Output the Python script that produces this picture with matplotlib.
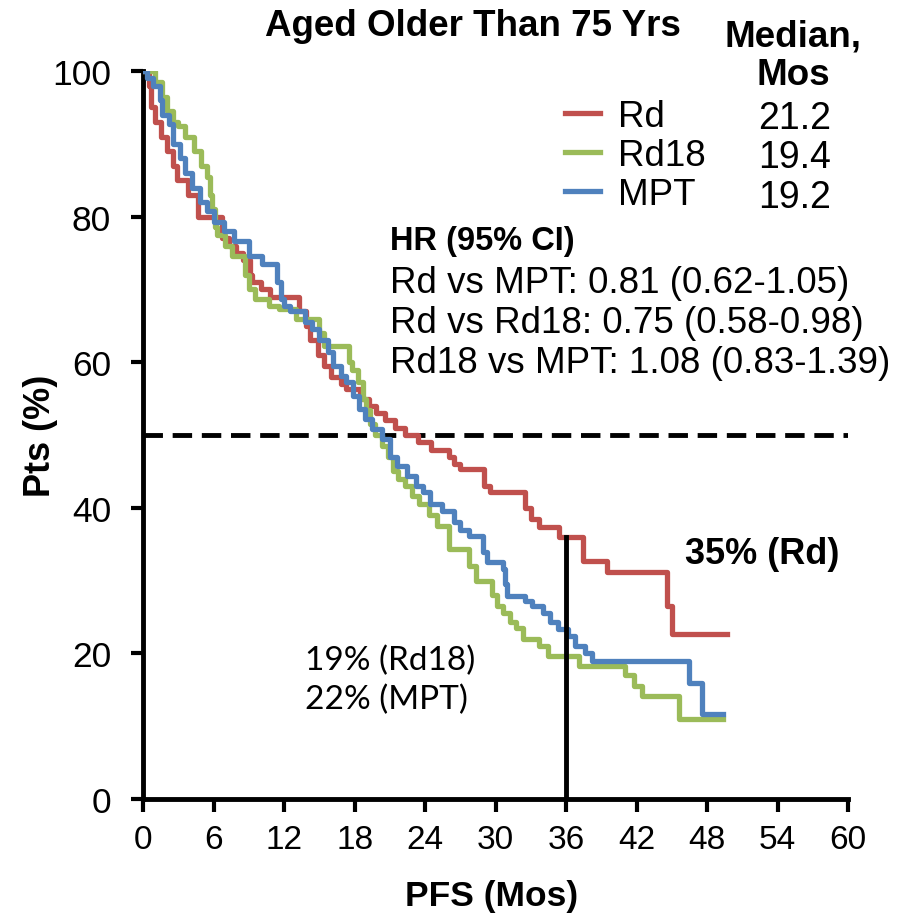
import matplotlib
matplotlib.use("Agg")
import matplotlib.pyplot as plt

plt.rcParams['font.family'] = ['Liberation Sans', 'DejaVu Sans']

# Kaplan-Meier PFS curves (months, % pts)
rd_t = [0, 0.5, 0.7, 1.0, 1.5, 2.0, 2.5, 2.9, 3.8, 4.7, 6.7, 7.3, 7.9, 8.5, 9.1, 9.3, 10.0, 10.8,
        13.3, 13.9, 14.2, 14.9, 15.4, 16.0, 16.8, 17.3, 18.5, 19.2, 19.8, 20.6, 21.4, 22.3, 23.4,
        24.5, 26.0, 26.5, 27.0, 29.0, 29.5, 32.5, 33.0, 33.7, 35.4, 37.4, 39.5, 44.6, 45.0, 49.7]
rd_s = [100, 98, 95, 93, 91, 89, 87, 85, 83, 80, 77, 76, 75, 74, 72, 71, 70, 69,
        67, 65, 63, 61, 59.5, 58, 57, 56.3, 55, 54, 53, 52, 51, 50, 49,
        48, 47, 46, 45.3, 43, 42.2, 40, 38.5, 37.4, 36, 32.7, 31.2, 26.5, 22.7, 22.7]

rd18_t = [0, 1.0, 1.6, 2.0, 2.5, 3.0, 3.6, 4.3, 4.9, 5.4, 5.7, 5.9, 6.1, 6.3, 7.0, 7.6, 8.7, 9.0,
          9.5, 10.7, 11.6, 13.0, 15.0, 15.4, 17.5, 17.8, 18.3, 18.7, 19.0, 19.3, 19.7, 20.3, 20.8,
          21.3, 21.7, 22.3, 22.9, 23.5, 24.3, 25.0, 26.0, 27.7, 28.3, 29.7, 30.1, 30.6, 31.2, 31.7,
          32.3, 33.7, 34.5, 37.1, 41.0, 41.8, 42.5, 45.6, 49.4]
rd18_s = [100, 98.5, 96.5, 94.5, 93, 92.5, 91, 89, 87, 85.5, 83, 81, 78.6, 77.5, 76, 74.6, 72, 70,
          68.7, 67.7, 67.3, 66, 64, 62.2, 60, 59, 57.3, 55, 53.5, 51.5, 50, 48.5, 47,
          45, 44, 43, 41.6, 40.5, 39, 37.5, 34.3, 32, 30, 28, 26.5, 25.5, 24.3, 23.5,
          22, 21, 19.6, 18.3, 17, 15.5, 14.1, 11, 11]

mpt_t = [0, 0.3, 0.8, 1.4, 1.6, 2.2, 2.5, 3.1, 3.6, 4.2, 4.8, 5.4, 6.0, 6.9, 7.7, 9.0, 10.1, 11.4,
         11.7, 12.0, 12.5, 13.8, 14.4, 15.0, 15.7, 16.2, 16.8, 17.3, 17.9, 18.4, 18.9, 19.5, 20.3,
         21.0, 21.6, 22.5, 23.2, 23.8, 24.4, 25.4, 26.5, 27.0, 27.7, 28.9, 29.3, 30.6, 30.8, 31.0,
         32.5, 33.1, 34.0, 34.6, 35.3, 36.2, 36.8, 37.6, 38.2, 46.5, 47.6, 49.4]
mpt_s = [100, 99, 98, 96, 94, 92.7, 90, 88, 86, 84, 82, 80.8, 79.3, 78, 76.6, 74.6, 73.5, 71,
         68.7, 67.7, 67, 65.5, 64.6, 63, 61.4, 59.5, 58.1, 57.3, 55.4, 53.6, 52.2, 50.8, 49.5,
         47, 45.7, 44.4, 43, 42.2, 40.5, 39.6, 38, 37, 36.1, 34, 32.6, 31.6, 29.5, 27.9,
         27.2, 26.5, 25.5, 24.3, 23.4, 22.4, 21, 20, 19, 16, 11.7, 11.7]

arms = ["Rd", "Rd18", "MPT"]
medians = ["21.2", "19.4", "19.2"]
colors = ["#C0504D", "#9BBB59", "#4F81BD"]
hr_lines = ["Rd vs MPT: 0.81 (0.62-1.05)",
            "Rd vs Rd18: 0.75 (0.58-0.98)",
            "Rd18 vs MPT: 1.08 (0.83-1.39)"]
milestone = 36
rd_at_milestone = 36

fig = plt.figure(figsize=(9.06, 9.2), dpi=100)
ax = fig.add_axes([0.158, 0.1304, 0.778, 0.7913])

for t, s, c, lab in zip([rd_t, rd18_t, mpt_t], [rd_s, rd18_s, mpt_s], colors, arms):
    ax.step(t, s, where='post', color=c, lw=3.8, label=lab, zorder=3)

ax.axhline(50, color='black', lw=3.5, dashes=(4, 2), zorder=2)
ax.plot([milestone, milestone], [0, rd_at_milestone], color='black', lw=3.5, zorder=4)

ax.set_xlim(0, 60)
ax.set_ylim(0, 100)
ax.set_xticks(range(0, 61, 6))
ax.set_yticks(range(0, 101, 20))
for side in ['top', 'right']:
    ax.spines[side].set_visible(False)
for side in ['left', 'bottom']:
    ax.spines[side].set_linewidth(3.5)
ax.tick_params(axis='both', length=9, width=3, direction='out')
ax.tick_params(axis='y', labelsize=25.5, pad=14)
ax.tick_params(axis='x', labelsize=24, pad=9)
for lbl in ax.get_xticklabels():
    lbl.set_family(['Liberation Sans Narrow', 'DejaVu Sans Condensed', 'Liberation Sans'])

ax.set_ylabel("Pts (%)", fontsize=26, fontweight='bold', va='center')
ax.yaxis.set_label_coords(-0.145, 0.5)
ax.set_xlabel("PFS (Mos)", fontsize=25.5, fontweight='bold', va='center')
ax.xaxis.set_label_coords(0.495, -0.133)

fig.text(0.522, 0.971, "Aged Older Than 75 Yrs", fontsize=26.5, fontweight='bold',
         ha='center', va='center')
fig.text(0.8755, 0.960, "Median,", fontsize=26.5, fontweight='bold', ha='center', va='center')
fig.text(0.8755, 0.918, "Mos", fontsize=26.5, fontweight='bold', ha='center', va='center')

ax.legend(loc='upper left', bbox_to_anchor=(0.6236, 0.891), bbox_transform=fig.transFigure,
          frameon=False, fontsize=26.5, handlelength=0.95, handletextpad=0.5,
          labelspacing=0.1, borderpad=0, borderaxespad=0)

for i, m in enumerate(medians):
    fig.text(0.8775, 0.871 - i * 0.0432, m, fontsize=27, ha='center', va='center')

fig.text(0.4305, 0.737, "HR (95% CI)", fontsize=23.5, fontweight='bold', ha='left', va='center')
for i, line in enumerate(hr_lines):
    fig.text(0.4305, 0.692 - i * 0.0435, line, fontsize=26.5, ha='left', va='center')

fig.text(0.756, 0.397, "35% (Rd)", fontsize=26, fontweight='bold', ha='left', va='center')
fig.text(0.337, 0.2815, "19% (Rd18)", fontsize=24, family=['Lato', 'DejaVu Sans'],
         ha='left', va='center')
fig.text(0.337, 0.239, "22% (MPT)", fontsize=24, family=['Lato', 'DejaVu Sans'],
         ha='left', va='center')

fig.savefig("out.png", dpi=100)
